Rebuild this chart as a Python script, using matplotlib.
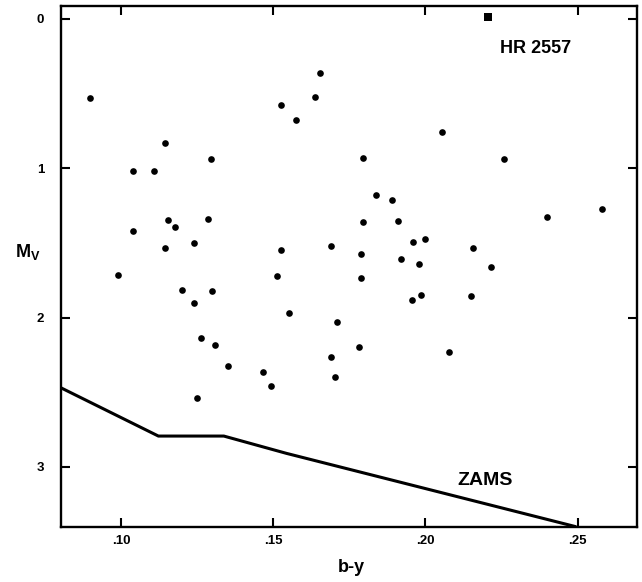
import numpy as np
import matplotlib.pyplot as plt

plt.rcParams['font.family'] = ['Liberation Sans', 'DejaVu Sans']
plt.rcParams['mathtext.fontset'] = 'custom'
plt.rcParams['mathtext.bf'] = 'Liberation Sans:bold'
plt.rcParams['mathtext.rm'] = 'Liberation Sans:bold'

# field stars (b-y, Mv)
bmy = [0.0898, 0.1146, 0.1297, 0.1038, 0.1108, 0.1155, 0.1178, 0.1286, 0.1038,
       0.1146, 0.1241, 0.0991, 0.1199, 0.1298, 0.1239, 0.1262, 0.1310, 0.1352,
       0.1468, 0.1492, 0.1249, 0.1551, 0.1512, 0.1526, 0.1576, 0.1636, 0.1654,
       0.1526, 0.1689, 0.1788, 0.1794, 0.1796, 0.1790, 0.1710, 0.1689, 0.1704,
       0.1781, 0.2055, 0.2258, 0.1838, 0.1890, 0.1909, 0.1959, 0.1999, 0.1920,
       0.1980, 0.2157, 0.2215, 0.1956, 0.1987, 0.2150, 0.2079, 0.2399, 0.2580]
mv = [0.527, 0.831, 0.938, 1.016, 1.020, 1.346, 1.393, 1.342, 1.422,
      1.534, 1.502, 1.715, 1.815, 1.822, 1.900, 2.135, 2.184, 2.322,
      2.364, 2.461, 2.536, 1.967, 1.719, 0.578, 0.678, 0.524, 0.365,
      1.549, 1.522, 1.571, 0.932, 1.362, 1.735, 2.026, 2.264, 2.398,
      2.199, 0.755, 0.936, 1.181, 1.210, 1.353, 1.496, 1.474, 1.607,
      1.643, 1.536, 1.660, 1.879, 1.847, 1.855, 2.232, 1.324, 1.271]

# HR 2557 itself
hr_bmy = [0.2207]
hr_mv = [-0.015]

# zero-age main sequence
zams_x = [0.0803, 0.1123, 0.1338, 0.1544, 0.2491]
zams_y = [2.470, 2.793, 2.793, 2.909, 3.398]

fig = plt.figure(figsize=(6.42, 5.82), dpi=100)
ax = fig.add_axes([0.095, 0.095, 0.897, 0.894])

ax.plot(zams_x, zams_y, color='black', lw=2.2, solid_joinstyle='miter')
ax.plot(bmy, mv, 'o', color='black', ms=4.8, mew=0)
ax.plot(hr_bmy, hr_mv, 's', color='black', ms=5.2, mew=0)

ax.set_xlim(0.0803, 0.2695)
ax.set_ylim(3.40, -0.084)

ax.set_xticks([0.10, 0.15, 0.20, 0.25])
ax.set_xticklabels(['.10', '.15', '.20', '.25'])
ax.set_yticks([0, 1, 2, 3])
ax.set_yticklabels(['0', '1', '2', '3'])

ax.tick_params(direction='in', length=6.5, width=1.5, top=True, right=True,
               labelsize=9.5)
ax.tick_params(axis='x', pad=6)
ax.tick_params(axis='y', pad=12)
for lab in ax.get_xticklabels() + ax.get_yticklabels():
    lab.set_fontweight('bold')
for sp in ax.spines.values():
    sp.set_linewidth(1.7)

ax.text(0.2246, 0.20, 'HR 2557', fontsize=13, fontweight='bold', va='center')
ax.text(0.2197, 3.09, 'ZAMS', fontsize=14, fontweight='bold', va='center', ha='center')

fig.text(28 / 642, 1 - 252 / 582, r'$\mathbf{M}_{\mathbf{V}}$', fontsize=13,
         ha='center', va='center')
fig.text(351 / 642, 1 - 567 / 582, 'b-y', fontsize=13, fontweight='bold',
         ha='center', va='center')

fig.savefig('out.png', dpi=100)
